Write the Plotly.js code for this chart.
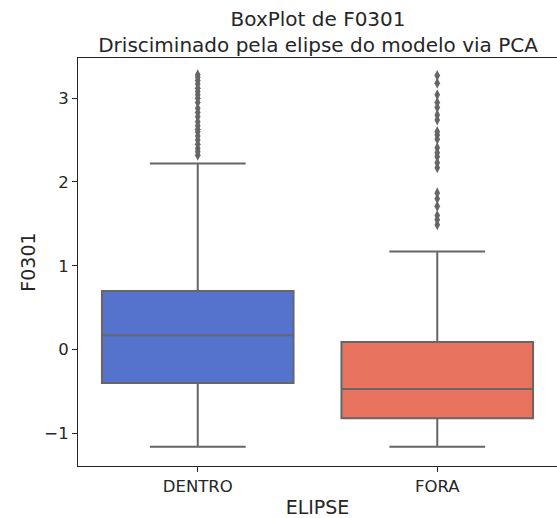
<!DOCTYPE html>
<html>
<head>
<meta charset="utf-8">
<script src="https://cdn.plot.ly/plotly-3.0.1.min.js"></script>
<style>html,body{margin:0;padding:0;background:#fff;}#chart{width:557px;height:518px;}</style>
</head>
<body>
<div id="chart"></div>
<script>
const categories = ["DENTRO", "FORA"];
const lowerWhisker = [-1.16, -1.16];
const q1Values = [-0.40, -0.82];
const medianValues = [0.17, -0.47];
const q3Values = [0.70, 0.09];
const upperWhisker = [2.22, 1.17];
const outliersDentro = [2.32, 2.36, 2.40, 2.45, 2.50, 2.55, 2.60, 2.63, 2.67, 2.72, 2.78, 2.83, 2.88, 2.95, 3.00, 3.04, 3.08, 3.12, 3.17, 3.21, 3.25, 3.28];
const outliersFora = [1.49, 1.55, 1.60, 1.71, 1.80, 1.87, 2.17, 2.23, 2.30, 2.35, 2.41, 2.51, 2.56, 2.60, 2.74, 2.80, 2.89, 2.95, 3.04, 3.18, 3.27];
const boxColors = ["#5573CD", "#E8735E"];
const outlierSets = [outliersDentro, outliersFora];

const traces = [];
categories.forEach((c, i) => {
  traces.push({
    type: "box",
    x: [i],
    q1: [q1Values[i]],
    median: [medianValues[i]],
    q3: [q3Values[i]],
    lowerfence: [lowerWhisker[i]],
    upperfence: [upperWhisker[i]],
    width: 0.8,
    whiskerwidth: 0.5,
    fillcolor: boxColors[i],
    line: {color: "#666666", width: 2},
    boxpoints: false,
    hoverinfo: "skip",
    showlegend: false
  });
  traces.push({
    type: "scatter",
    mode: "markers",
    x: outlierSets[i].map(() => i),
    y: outlierSets[i],
    marker: {symbol: "diamond-tall", size: 8, color: "#666666", line: {width: 0}},
    hoverinfo: "skip",
    showlegend: false
  });
});

const layout = {
  width: 557, height: 518,
  margin: {l: 78, r: 0, t: 58, b: 52},
  paper_bgcolor: "#fff", plot_bgcolor: "#fff",
  font: {family: "DejaVu Sans", color: "#262626"},
  title: {
    text: "BoxPlot de F0301<br>Drisciminado pela elipse do modelo via PCA",
    font: {size: 20, color: "#262626"},
    x: 0.571, xanchor: "center",
    yref: "paper", y: 1, yanchor: "bottom", pad: {b: 32}
  },
  xaxis: {
    range: [-0.5, 1.5],
    tickvals: [0, 1], ticktext: categories,
    ticks: "outside", ticklen: 5, tickcolor: "#262626",
    showline: true, linecolor: "#262626", linewidth: 1, mirror: true,
    showgrid: false, zeroline: false,
    tickfont: {size: 16.5},
    title: {text: "ELIPSE", font: {size: 19}, standoff: 5}
  },
  yaxis: {
    range: [-1.39, 3.48],
    tickvals: [-1, 0, 1, 2, 3], ticktext: ["\u22121", "0", "1", "2", "3"],
    ticks: "outside", ticklen: 5, tickcolor: "#262626",
    showline: true, linecolor: "#262626", linewidth: 1, mirror: true,
    showgrid: false, zeroline: false,
    tickfont: {size: 16.5},
    title: {text: "F0301", font: {size: 19}, standoff: 3}
  }
};
Plotly.newPlot("chart", traces, layout, {staticPlot: true, displayModeBar: false});
</script>
</body>
</html>
